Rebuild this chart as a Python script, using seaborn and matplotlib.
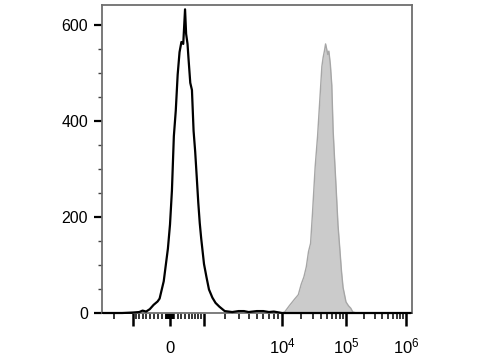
import numpy as np
import matplotlib
matplotlib.use("Agg")
import matplotlib.pyplot as plt
import seaborn as sns
from matplotlib.ticker import FixedLocator, FixedFormatter, MultipleLocator

# ---------------- data ----------------
# unstained / control (black outline)
black_x = [-2800, -2000, -1500, -1000, -800, -700, -600, -500, -400, -300, -250,
           -200, -150, -100, -50, 0, 50, 100, 150, 200, 250, 300, 350, 400,
           430, 470, 500, 550, 600, 650, 700, 750, 800, 850, 900, 1000, 1100,
           1200, 1350, 1500, 1700, 2000, 2500, 3000, 3500, 4000, 5000, 6000,
           7000, 8000, 10000, 30000, 100000, 1200000]
black_y = [0, 0, 0, 1, 2, 5, 3, 8, 17, 24, 30,
           48, 66, 100, 134, 184, 255, 368, 421, 496, 543, 564, 560, 632,
           581, 560, 528, 479, 464, 379, 336, 283, 230, 187, 155, 102, 74,
           49, 32, 21, 13, 4, 2, 4, 4, 2, 4, 4,
           2, 3, 0, 0, 0, 0]

# stained sample (grey filled)
gray_x = [-1000, 1000, 10000, 11000, 13000, 16000, 18000, 20000, 22000, 24000,
          26000, 28000, 30000, 33000, 36000, 39000, 42000, 44000, 46000, 48000,
          50000, 52000, 54000, 57000, 60000, 63000, 66000, 70000, 75000, 80000,
          85000, 90000, 100000, 110000, 120000, 130000, 150000]
gray_y = [0, 0, 0, 2, 15, 30, 38, 60, 75, 96,
          128, 145, 208, 304, 368, 443, 513, 532, 545, 560,
          549, 538, 545, 517, 474, 379, 326, 262, 183, 134,
          87, 53, 23, 15, 10, 2, 0]

y_ticks = [0, 200, 400, 600]
x_major = [-1000, 0, 1000, 10000, 100000, 1000000]
x_major_labels = ["", "0", "", "$10^4$", "$10^5$", "$10^6$"]

# ---------------- style ----------------
sns.set_style("ticks")
plt.rcParams["font.family"] = ["Liberation Sans", "DejaVu Sans"]
plt.rcParams["mathtext.fontset"] = "custom"
plt.rcParams["mathtext.rm"] = "Liberation Sans"
plt.rcParams["mathtext.default"] = "regular"

# logicle-like display scale (piecewise in asinh space)
_U = np.arcsinh(np.array([-1e4, -1e3, 0, 1e3, 1e4, 1e5, 1e6, 1e7]) / 1000.0)
_P = np.array([60, 133, 170, 204, 282, 346, 406, 466], dtype=float)


def fwd(x):
    x = np.asarray(x, dtype=float)
    return np.interp(np.arcsinh(x / 1000.0), _U, _P)


def inv(p):
    p = np.asarray(p, dtype=float)
    return 1000.0 * np.sinh(np.interp(p, _P, _U))


fig = plt.figure(figsize=(4.8, 3.6), dpi=100)
ax = fig.add_axes([102 / 480, (360 - 313) / 360, 310 / 480, 308 / 360])
ax.set_xscale("function", functions=(fwd, inv))

ax.fill_between(gray_x, gray_y, 0, color="#cbcbcb", lw=0, zorder=1.5)
sns.lineplot(x=gray_x, y=gray_y, color="#a6a6a6", lw=1.0, ax=ax,
             estimator=None, sort=True, clip_on=False, zorder=2)
sns.lineplot(x=black_x, y=black_y, color="black", lw=1.6, ax=ax,
             estimator=None, sort=True, clip_on=False, zorder=3)

ax.set_xlim(float(inv(102)), float(inv(412)))
ax.set_ylim(0, 641)
ax.set_xlabel("")
ax.set_ylabel("")

# x ticks
minor = ([-2000] + [-k * 100 for k in range(1, 10)] + [-k * 10 for k in range(1, 10)]
         + [k * 10 for k in range(1, 10)] + [k * 100 for k in range(1, 10)]
         + [k * 1000 for k in range(2, 10)] + [k * 10000 for k in range(2, 10)]
         + [k * 100000 for k in range(2, 10)])
ax.xaxis.set_major_locator(FixedLocator(x_major))
ax.xaxis.set_major_formatter(FixedFormatter(x_major_labels))
ax.xaxis.set_minor_locator(FixedLocator(minor))
ax.tick_params(axis="x", which="major", length=9, width=1.8, pad=20,
               labelsize=12, color="black", labelcolor="black")
ax.tick_params(axis="x", which="minor", length=4.5, width=1.1, color="black")
for t in ax.xaxis.get_major_ticks():
    t.label1.set_verticalalignment("baseline")

# y ticks
ax.yaxis.set_major_locator(FixedLocator(y_ticks))
ax.yaxis.set_minor_locator(MultipleLocator(50))
ax.tick_params(axis="y", which="major", length=6, width=1.6, pad=4,
               labelsize=11.5, color="black", labelcolor="black")
ax.tick_params(axis="y", which="minor", length=3, width=1.0, color="#444444")

for s in ["left", "top", "right"]:
    ax.spines[s].set_color("#6e6e6e")
    ax.spines[s].set_linewidth(1.3)
ax.spines["bottom"].set_color("black")
ax.spines["bottom"].set_linewidth(1.2)
ax.spines["bottom"].set_zorder(1)

fig.savefig("out.png", dpi=100)
